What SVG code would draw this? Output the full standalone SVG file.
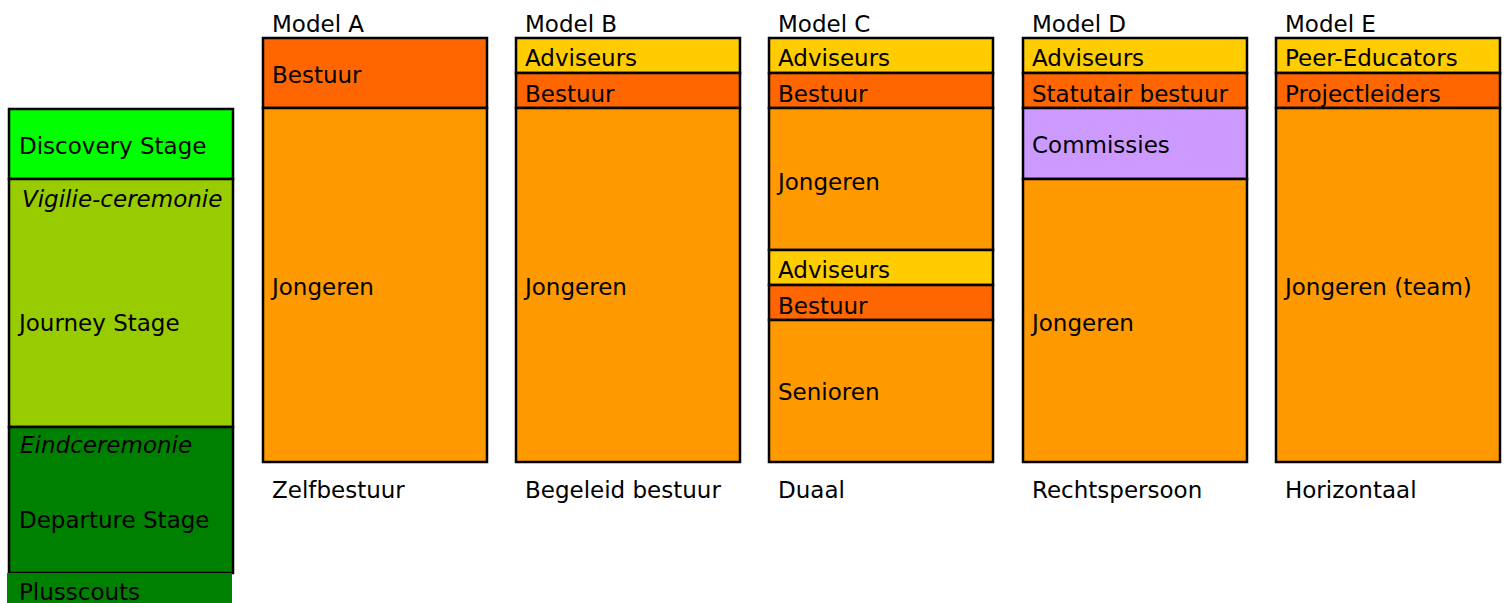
<svg xmlns="http://www.w3.org/2000/svg" width="1507" height="603" viewBox="0 0 1507 603">
<style>
text{font-family:"DejaVu Sans","Liberation Sans",sans-serif;font-size:23px;fill:#000}
.it{font-style:italic}
.b{stroke:#000;stroke-width:2.5}
.or{fill:#FF9900}.rd{fill:#FF6600}.yl{fill:#FFCC00}.pu{fill:#CC99FF}
.g1{fill:#00FF00}.g2{fill:#99CC00}.g3{fill:#008000}
</style>
<rect width="1507" height="603" fill="#fff"/>
<g id="stages">
<rect class="g1 b" x="9" y="109" width="224" height="70"/>
<rect class="g2 b" x="9" y="179" width="224" height="248"/>
<rect class="g3 b" x="9" y="427" width="224" height="146"/>
<rect class="g3" x="7" y="573" width="225" height="30"/>
<text x="19" y="154">Discovery Stage</text>
<text class="it" x="22" y="207">Vigilie-ceremonie</text>
<text x="19" y="331">Journey Stage</text>
<text class="it" x="20" y="453">Eindceremonie</text>
<text x="19" y="528">Departure Stage</text>
<text x="19" y="600">Plusscouts</text>
</g>
<g id="modelA">
<text x="272" y="32">Model A</text>
<rect class="rd b" x="263" y="38" width="224" height="70"/>
<rect class="or b" x="263" y="108" width="224" height="354"/>
<text x="272" y="83">Bestuur</text>
<text x="272" y="295">Jongeren</text>
<text x="272" y="498">Zelfbestuur</text>
</g>
<g id="modelB">
<text x="525" y="32">Model B</text>
<rect class="yl b" x="516" y="38" width="224" height="35"/>
<rect class="rd b" x="516" y="73" width="224" height="35"/>
<rect class="or b" x="516" y="108" width="224" height="354"/>
<text x="525" y="66">Adviseurs</text>
<text x="525" y="102">Bestuur</text>
<text x="525" y="295">Jongeren</text>
<text x="525" y="498">Begeleid bestuur</text>
</g>
<g id="modelC">
<text x="778" y="32">Model C</text>
<rect class="yl b" x="769" y="38" width="224" height="35"/>
<rect class="rd b" x="769" y="73" width="224" height="35"/>
<rect class="or b" x="769" y="108" width="224" height="142"/>
<rect class="yl b" x="769" y="250" width="224" height="35"/>
<rect class="rd b" x="769" y="285" width="224" height="35"/>
<rect class="or b" x="769" y="320" width="224" height="142"/>
<text x="778" y="66">Adviseurs</text>
<text x="778" y="102">Bestuur</text>
<text x="778" y="190">Jongeren</text>
<text x="778" y="278">Adviseurs</text>
<text x="778" y="314">Bestuur</text>
<text x="778" y="400">Senioren</text>
<text x="778" y="498">Duaal</text>
</g>
<g id="modelD">
<text x="1032" y="32">Model D</text>
<rect class="yl b" x="1023" y="38" width="224" height="35"/>
<rect class="rd b" x="1023" y="73" width="224" height="35"/>
<rect class="pu b" x="1023" y="108" width="224" height="71"/>
<rect class="or b" x="1023" y="179" width="224" height="283"/>
<text x="1032" y="66">Adviseurs</text>
<text x="1032" y="102">Statutair bestuur</text>
<text x="1032" y="153">Commissies</text>
<text x="1032" y="331">Jongeren</text>
<text x="1032" y="498">Rechtspersoon</text>
</g>
<g id="modelE">
<text x="1285" y="32">Model E</text>
<rect class="yl b" x="1276" y="38" width="224" height="35"/>
<rect class="rd b" x="1276" y="73" width="224" height="35"/>
<rect class="or b" x="1276" y="108" width="224" height="354"/>
<text x="1285" y="66">Peer-Educators</text>
<text x="1285" y="102">Projectleiders</text>
<text x="1285" y="295">Jongeren (team)</text>
<text x="1285" y="498">Horizontaal</text>
</g>
<g id="connectors"></g>
</svg>
